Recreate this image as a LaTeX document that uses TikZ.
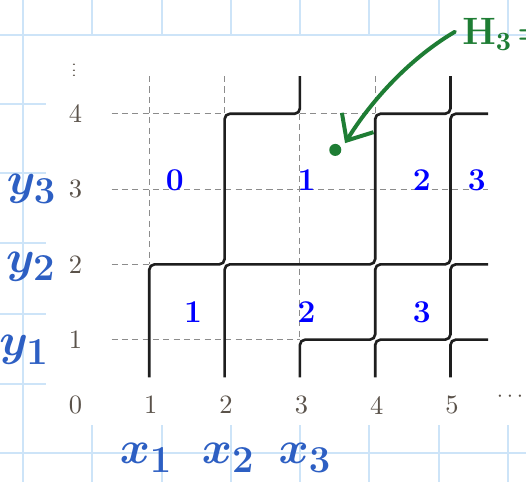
\documentclass[tikz,border=0pt]{standalone}
\usetikzlibrary{arrows.meta}
\definecolor{gridblue}{RGB}{205,228,248}
\definecolor{axisgray}{RGB}{90,82,74}
\definecolor{dashgray}{RGB}{140,140,140}
\definecolor{penblue}{RGB}{45,95,195}
\definecolor{pengreen}{RGB}{30,125,52}
\definecolor{pathblack}{RGB}{30,30,30}
\tikzset{
  paperline/.style={gridblue, line width=0.55pt},
  dashline/.style={dashgray, line width=0.4pt, dash pattern=on 2.3pt off 1.6pt},
  lpath/.style={pathblack, line width=1pt, rounded corners=2pt},
  axlabel/.style={text=axisgray, inner sep=0pt},
  weight/.style={text=blue, font=\large\bfseries, inner sep=0pt},
  hand/.style={text=penblue, font=\fontsize{19}{23}\selectfont\boldmath, inner sep=0pt},
  greenhand/.style={text=pengreen, font=\fontsize{14}{17}\selectfont\boldmath, inner sep=0pt},
}
\begin{document}
\begin{tikzpicture}
\useasboundingbox (-0.983,-0.890) rectangle (6.003,5.511);
\clip (-0.983,-0.890) rectangle (6.003,5.511);
\fill[white] (-0.983,-0.890) rectangle (6.003,5.511);
% squared paper
\foreach \gx in {-0.677,0.239,1.169,2.085,3.001,3.918,4.847,5.764}
  \draw[paperline] (\gx,-0.890) -- (\gx,5.511);
\foreach \gy in {5.046,4.130,3.214,2.284,1.341,0.412,-0.505}
  \draw[paperline] (-0.983,\gy) -- (6.003,\gy);
\fill[white] (-0.372,-0.133) rectangle (6.1,5.033);
% dashed grid (visible parts)
\draw[dashline] (1,4.5) -- (1,2);
\draw[dashline] (2,4.5) -- (2,4);
\draw[dashline] (3,4) -- (3,1);
\draw[dashline] (4,4.5) -- (4,4);
\draw[dashline] (0.5,1) -- (3,1);
\draw[dashline] (0.5,2) -- (1,2);
\draw[dashline] (0.5,3) -- (5.5,3);
\draw[dashline] (0.5,4) -- (2,4);
\draw[dashline] (3,4) -- (4,4);
% lattice paths
\draw[lpath] (1,0.5) -- (1,2) -- (2,2) -- (2,4) -- (3,4) -- (3,4.5);
\draw[lpath] (2,0.5) -- (2,2) -- (4,2) -- (4,4) -- (5,4) -- (5,4.5);
\draw[lpath] (3,0.5) -- (3,1) -- (4,1) -- (4,2) -- (5,2) -- (5,4) -- (5.5,4);
\draw[lpath] (4,0.5) -- (4,1) -- (5,1) -- (5,2) -- (5.5,2);
\draw[lpath] (5,0.5) -- (5,1) -- (5.5,1);
% axis labels
\foreach \i in {0,...,5}
  \node[axlabel] (xl\i) at (\i+0.02,0.13) {\i};
\foreach \j in {1,...,4}
  \node[axlabel] (yl\j) at (0.02,\j) {\j};
\node[axlabel] (xdots) at (5.79,0.24) {\footnotesize$\cdots$};
\node[axlabel] (ydots) at (0.0,4.63) {\scalebox{0.8}[0.5]{$\vdots$}};
% weights
\node[weight] (w0) at (1.34,3.12) {0};
\node[weight] (w1a) at (3.09,3.12) {1};
\node[weight] (w2a) at (4.62,3.12) {2};
\node[weight] (w3a) at (5.35,3.12) {3};
\node[weight] (w1b) at (1.58,1.37) {1};
\node[weight] (w2b) at (3.09,1.37) {2};
\node[weight] (w3b) at (4.62,1.37) {3};
% handwritten labels
\node[hand] (y3) at (-0.56,3.0) {$y_3$};
\node[hand] (y2) at (-0.57,1.97) {$y_2$};
\node[hand] (y1) at (-0.66,0.86) {$y_1$};
\node[hand] (x1) at (0.96,-0.57) {$x_1$};
\node[hand] (x2) at (2.05,-0.57) {$x_2$};
\node[hand] (x3) at (3.07,-0.57) {$x_3$};
% green annotation
\node[greenhand, anchor=base west] (h3) at (5.15,4.92) {$\mathbf{H}_3\!=$};
\node[circle, fill=pengreen, inner sep=0pt, minimum size=0.16cm] (dot) at (3.47,3.52) {};
\coordinate (tail) at (5.06,5.09);
\coordinate (tip) at (3.60,3.61);
\draw[pengreen, line width=1.5pt, line cap=round, -{Straight Barb[length=8pt,width=14pt]}]
  (tail) .. controls (4.4,4.7) and (3.9,4.1) .. (tip);
\end{tikzpicture}
\end{document}
